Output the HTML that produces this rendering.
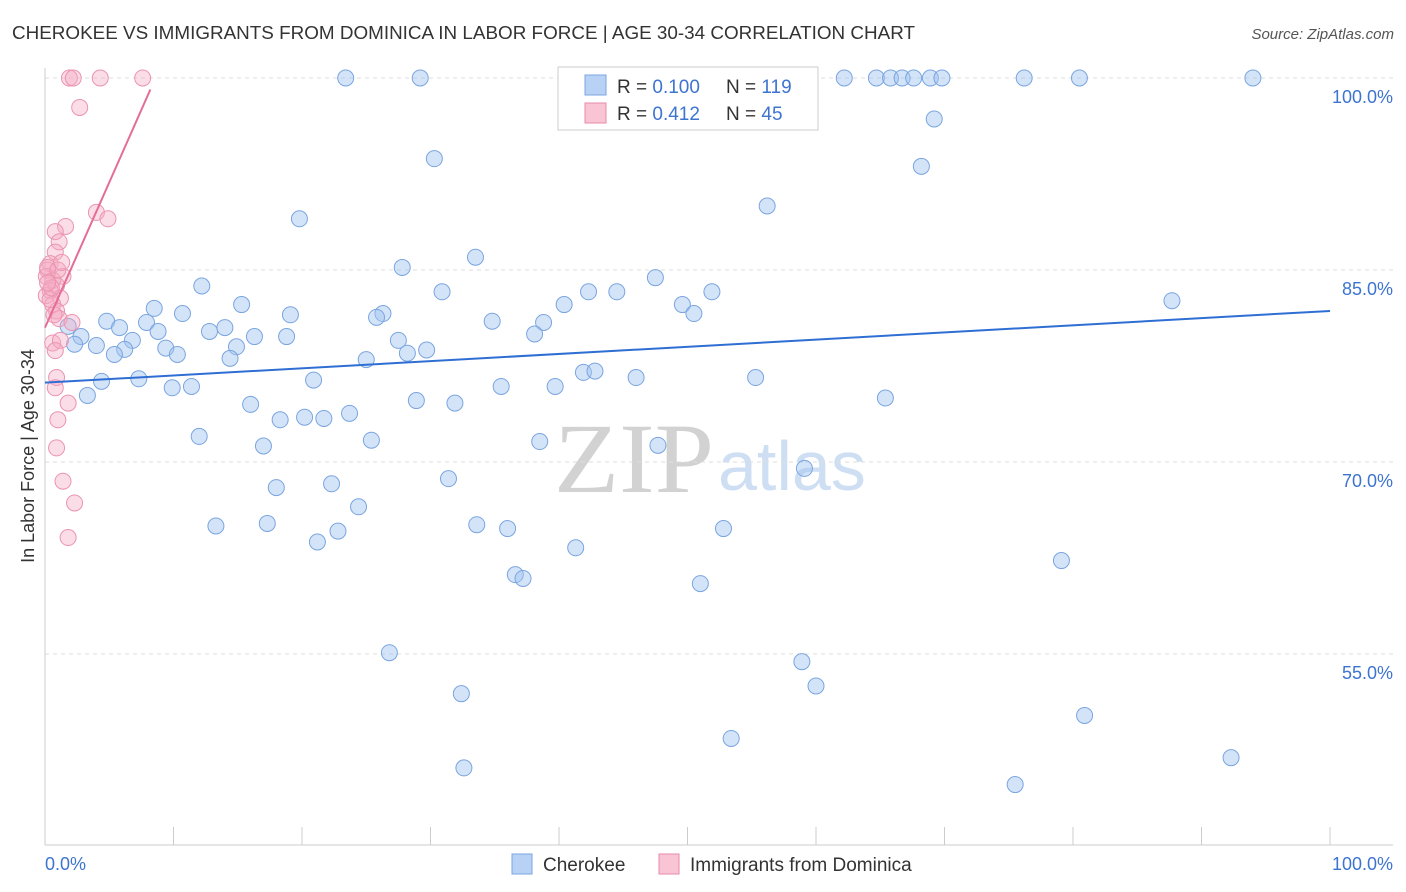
<!DOCTYPE html>
<html><head><meta charset="utf-8"><style>
body{margin:0;background:#fff;font-family:"Liberation Sans",sans-serif;}
svg{display:block}
</style></head><body>
<svg id="chart" width="1406" height="892" xmlns="http://www.w3.org/2000/svg">
<text x="12" y="39" font-size="18.5" fill="#333" textLength="903" lengthAdjust="spacingAndGlyphs">CHEROKEE VS IMMIGRANTS FROM DOMINICA IN LABOR FORCE | AGE 30-34 CORRELATION CHART</text>
<text x="1394" y="39" font-size="15" fill="#555" text-anchor="end" font-style="italic">Source: ZipAtlas.com</text>
<text x="714" y="492" font-size="100" fill="#d2d2d2" text-anchor="end" font-family="Liberation Serif" textLength="160" lengthAdjust="spacingAndGlyphs">ZIP</text>
<text x="718" y="490" font-size="70" fill="#cfdff3">atlas</text>
<g id="grid"></g>
<g id="axes"></g>
<g id="pts"></g>
<g id="lines"></g>
<text transform="translate(34,456) rotate(-90)" font-size="18" fill="#333" text-anchor="middle">In Labor Force | Age 30-34</text>
<g>
<rect x="558" y="67" width="260" height="63" fill="#fff" stroke="#ccc"/>
<rect x="585" y="75" width="21" height="20" fill="#b8d2f5" stroke="#7aa5e0"/>
<rect x="585" y="103" width="21" height="20" fill="#f9c5d5" stroke="#e88aa8"/>
<text x="617" y="93" font-size="19" fill="#333">R = <tspan fill="#3d74d0">0.100</tspan></text>
<text x="726" y="93" font-size="19" fill="#333">N = <tspan fill="#3d74d0">119</tspan></text>
<text x="617" y="120" font-size="19" fill="#333">R = <tspan fill="#3d74d0">0.412</tspan></text>
<text x="726" y="120" font-size="19" fill="#333">N = <tspan fill="#3d74d0">45</tspan></text>
</g>
<g>
<rect x="512" y="854" width="20" height="20" fill="#b8d2f5" stroke="#7aa5e0"/>
<text x="543" y="871" font-size="19" fill="#333">Cherokee</text>
<rect x="659" y="854" width="20" height="20" fill="#f9c5d5" stroke="#e88aa8"/>
<text x="690" y="871" font-size="19" fill="#333">Immigrants from Dominica</text>
</g>
</svg>
<script>
const blueX=[23.4,29.2,51.4,56.7,62.2,64.7,65.8,66.7,67.6,68.9,69.8,76.2,80.5,94.0,69.2,30.3,68.2,56.2,19.8,33.5,27.8,47.5,12.2,30.9,42.3,44.5,51.9,87.7,15.3,8.5,40.4,49.6,10.7,19.1,26.3,25.8,4.8,7.9,34.8,38.8,50.5,1.8,5.8,8.8,12.8,14.0,38.1,2.8,16.3,18.8,4.0,2.3,6.8,9.4,14.9,27.5,6.2,29.7,28.2,5.4,10.3,14.4,25.0,4.4,7.3,20.9,41.9,42.8,46.0,55.3,9.9,11.4,35.5,39.7,3.3,65.4,16.0,28.9,31.9,23.7,18.3,20.2,21.7,12.0,25.4,38.5,17.0,47.7,59.1,18.0,22.3,31.4,24.4,13.3,17.3,33.6,36.0,52.8,21.2,22.8,41.3,79.1,36.6,37.2,51.0,26.8,58.9,60.0,32.4,80.9,53.4,92.3,32.6,75.5];
const blueY=[100,100,100,100,100,100,100,100,100,100,100,100,100,100,96.8,93.7,93.1,90.0,89.0,86.0,85.2,84.4,83.75,83.3,83.3,83.3,83.3,82.6,82.3,82.0,82.3,82.3,81.6,81.5,81.6,81.3,81.0,80.9,81.0,80.9,81.6,80.6,80.5,80.2,80.2,80.5,80.0,79.8,79.8,79.8,79.1,79.2,79.5,78.9,79.0,79.5,78.8,78.75,78.5,78.4,78.4,78.1,78.0,76.3,76.5,76.4,77.0,77.1,76.6,76.6,75.8,75.9,75.9,75.9,75.2,75.0,74.5,74.8,74.6,73.8,73.3,73.5,73.4,72.0,71.7,71.6,71.25,71.3,69.5,68.0,68.3,68.7,66.5,65.0,65.2,65.1,64.8,64.8,63.75,64.6,63.3,62.3,61.2,60.9,60.5,55.1,54.4,52.5,51.9,50.2,48.4,46.9,46.1,44.8];
const pinkX=[1.9,2.2,4.3,7.6,2.7,4.0,4.9,1.6,0.8,1.1,0.8,0.4,0.2,1.4,0.1,0.6,0.9,0.4,1.2,0.1,0.6,0.9,1.1,2.1,0.6,1.2,0.8,0.9,0.8,1.8,1.0,0.9,1.4,2.3,1.8,0.2,0.4,0.5,0.2,1.0,1.3,0.7];
const pinkY=[100,100,100,100,97.7,89.5,89.0,88.4,88.0,87.2,86.4,85.5,85.0,84.5,84.5,84.2,83.8,83.4,82.8,83.0,82.3,81.8,81.2,80.9,79.3,79.5,78.7,76.6,75.8,74.6,73.3,71.1,68.5,66.8,64.1,85.2,82.7,83.6,84.0,85.0,85.6,81.5];
const blueLine=[76.2,81.8];
const pinkLine=[80.5,99.1,8.2];
const yTicks=[55,70,85,100];
const xTickVals=[0,10,20,30,40,50,60,70,80,90,100];
const NS="http://www.w3.org/2000/svg";
const sx=v=>45+v*12.85, sy=v=>78+(100-v)*12.8;
function mk(tag,attrs,parent){const e=document.createElementNS(NS,tag);for(const k in attrs)e.setAttribute(k,attrs[k]);document.getElementById(parent).appendChild(e);return e;}
yTicks.forEach(t=>{
 const l=mk('line',{x1:45,x2:1393,y1:sy(t),y2:sy(t),stroke:'#ddd','stroke-dasharray':'4,4'},'grid');
 
 
 const tx=mk('text',{x:1393,y:sy(t)+25,'font-size':18,fill:'#3d74d0','text-anchor':'end'},'grid');
 tx.textContent=t.toFixed(1)+'%';
 
 
});
const ya=mk('line',{x1:45,x2:45,y1:68,y2:845,stroke:'#ccc'},'axes');


const xa=mk('line',{x1:45,x2:1393,y1:845,y2:845,stroke:'#ccc'},'axes');


xTickVals.forEach(t=>{
 const l=mk('line',{x1:sx(t),x2:sx(t),y1:827,y2:845,stroke:'#ccc'},'axes');
 
 
});
[[0,'start','0.0%',45],[100,'end','100.0%',1393]].forEach(a=>{
 const tx=mk('text',{x:a[3],y:870,'font-size':18,fill:'#3d74d0','text-anchor':a[1]},'axes');
 tx.textContent=a[2];
 
 
});
blueX.forEach((x,i)=>{
 const c=mk('circle',{cx:sx(x),cy:sy(blueY[i]),r:8,fill:'rgba(160,195,240,0.45)',stroke:'#7aa5e0','stroke-width':1},'pts');
 
 
});
pinkX.forEach((x,i)=>{
 const c=mk('circle',{cx:sx(x),cy:sy(pinkY[i]),r:8,fill:'rgba(246,170,195,0.4)',stroke:'#eb94b0','stroke-width':1},'pts');
 
 
});
const bl=mk('line',{x1:sx(0),y1:sy(blueLine[0]),x2:sx(100),y2:sy(blueLine[1]),stroke:'#2f6fd4','stroke-width':2},'lines');


const pl=mk('line',{x1:sx(0),y1:sy(pinkLine[0]),x2:sx(pinkLine[2]),y2:sy(pinkLine[1]),stroke:'#e56c99','stroke-width':2},'lines');


</script>
</body></html>
